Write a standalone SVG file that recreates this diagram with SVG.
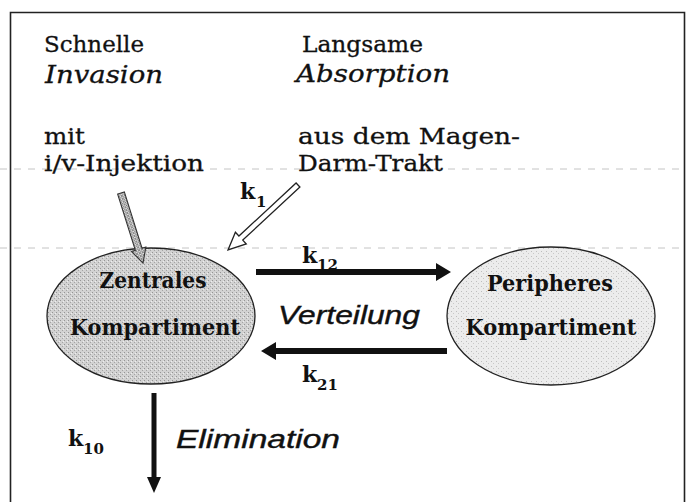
<svg xmlns="http://www.w3.org/2000/svg" width="686" height="502" viewBox="0 0 686 502">
<style>
.slab{font-family:"DejaVu Serif","Liberation Serif",serif;font-size:23px;fill:#111;stroke:#111;stroke-width:0.3}
.slabi{font-family:"DejaVu Serif","Liberation Serif",serif;font-size:24px;font-style:italic;fill:#111;stroke:#111;stroke-width:0.3}
.bold{font-family:"DejaVu Serif","Liberation Serif",serif;font-size:23px;font-weight:bold;fill:#111}
.sansi{font-family:"Liberation Sans","Arial",sans-serif;font-size:25px;font-style:italic;fill:#111;stroke:#111;stroke-width:0.4}
.k{font-family:"DejaVu Serif","Liberation Serif",serif;font-size:22px;font-weight:bold;fill:#111}
.sub{font-family:"DejaVu Serif","Liberation Serif",serif;font-size:15px;font-weight:bold;fill:#111}
.thick{fill:#111}
.scan{stroke:#c4c4c4;stroke-width:1;stroke-dasharray:7 7;fill:none}
</style>
<defs>
<pattern id="stipL" width="4" height="4" patternUnits="userSpaceOnUse">
<rect width="4" height="4" fill="#d2d2d2"/>
<rect x="0" y="0" width="1" height="1" fill="#959595"/>
<rect x="2" y="2" width="1" height="1" fill="#a4a4a4"/>
<rect x="3" y="1" width="1" height="1" fill="#eeeeee"/>
</pattern>
<pattern id="stipR" width="5" height="5" patternUnits="userSpaceOnUse">
<rect width="5" height="5" fill="#ececec"/>
<rect x="1" y="1" width="1" height="1" fill="#bdbdbd"/>
<rect x="3" y="3" width="1" height="1" fill="#c8c8c8"/>
</pattern>
<pattern id="hatch" width="3" height="3" patternUnits="userSpaceOnUse">
<rect width="3" height="3" fill="#e2e2e2"/>
<path d="M0,0 L3,3 M3,0 L0,3" stroke="#666" stroke-width="0.7"/>
</pattern>
</defs>
<rect width="686" height="502" fill="#fff"/>
<line class="scan" x1="0" y1="169" x2="686" y2="169"/>
<line class="scan" x1="0" y1="248" x2="686" y2="248"/>
<path d="M10.5,502 L10.5,12.5 L684.5,12.5 L684.5,502" fill="none" stroke="#222" stroke-width="1.6"/>

<g id="labels-top">
<text class="slab" x="44" y="52" textLength="100" lengthAdjust="spacingAndGlyphs">Schnelle</text>
<text class="slabi" x="45" y="83" textLength="118" lengthAdjust="spacingAndGlyphs">Invasion</text>
<text class="slab" x="44" y="144" textLength="41" lengthAdjust="spacingAndGlyphs">mit</text>
<text class="slab" x="44" y="171" textLength="160" lengthAdjust="spacingAndGlyphs">i/v-Injektion</text>
<text class="slab" x="302" y="52" textLength="121" lengthAdjust="spacingAndGlyphs">Langsame</text>
<text class="slabi" x="296" y="82" textLength="154" lengthAdjust="spacingAndGlyphs">Absorption</text>
<text class="slab" x="298" y="144" textLength="222" lengthAdjust="spacingAndGlyphs">aus dem Magen-</text>
<text class="slab" x="298" y="171" textLength="145" lengthAdjust="spacingAndGlyphs">Darm-Trakt</text>
</g>

<g id="central">
<ellipse cx="151" cy="316" rx="104" ry="68" fill="url(#stipL)" stroke="#222" stroke-width="1.3"/>
<text class="bold" x="153" y="288" text-anchor="middle" textLength="107" lengthAdjust="spacingAndGlyphs">Zentrales</text>
<text class="bold" x="155" y="335" text-anchor="middle" textLength="170" lengthAdjust="spacingAndGlyphs">Kompartiment</text>
</g>

<g id="peripheral">
<ellipse cx="551" cy="316" rx="104" ry="69" fill="url(#stipR)" stroke="#222" stroke-width="1.3"/>
<text class="bold" x="550" y="291" text-anchor="middle" textLength="126" lengthAdjust="spacingAndGlyphs">Peripheres</text>
<text class="bold" x="551" y="335" text-anchor="middle" textLength="171" lengthAdjust="spacingAndGlyphs">Kompartiment</text>
</g>

<g id="connectors">
<path transform="translate(121,193) rotate(72.55)" d="M0,-3.5 L59,-3.5 L59,-7.5 L73.4,0 L59,7.5 L59,3.5 L0,3.5 Z" fill="url(#hatch)" stroke="#333" stroke-width="1.1"/>
<path transform="translate(298,185) rotate(137.12)" d="M0,-2.8 L78,-2.8 L78,-8 L95.5,0 L78,8 L78,2.8 L0,2.8 Z" fill="#fff" stroke="#222" stroke-width="1.3"/>
<path class="thick" d="M256,269 L436,269 L436,263 L451,272 L436,281 L436,275 L256,275 Z"/>
<path class="thick" d="M447,348 L276,348 L276,342 L261,351 L276,360 L276,354 L447,354 Z"/>
<path class="thick" d="M151.5,393 L156.5,393 L156.5,477 L161,477 L154,493 L147,477 L151.5,477 Z"/>
</g>

<g id="rate-labels">
<text class="k" x="240" y="199">k</text><text class="sub" x="256" y="207">1</text>
<text class="k" x="302" y="263">k</text><text class="sub" x="317" y="270">12</text>
<text class="k" x="302" y="382">k</text><text class="sub" x="317" y="390">21</text>
<text class="k" x="68" y="446">k</text><text class="sub" x="83" y="454">10</text>
<text class="sansi" x="278" y="324" textLength="142" lengthAdjust="spacingAndGlyphs">Verteilung</text>
<text class="sansi" x="176" y="448" textLength="164" lengthAdjust="spacingAndGlyphs">Elimination</text>
</g>
</svg>
